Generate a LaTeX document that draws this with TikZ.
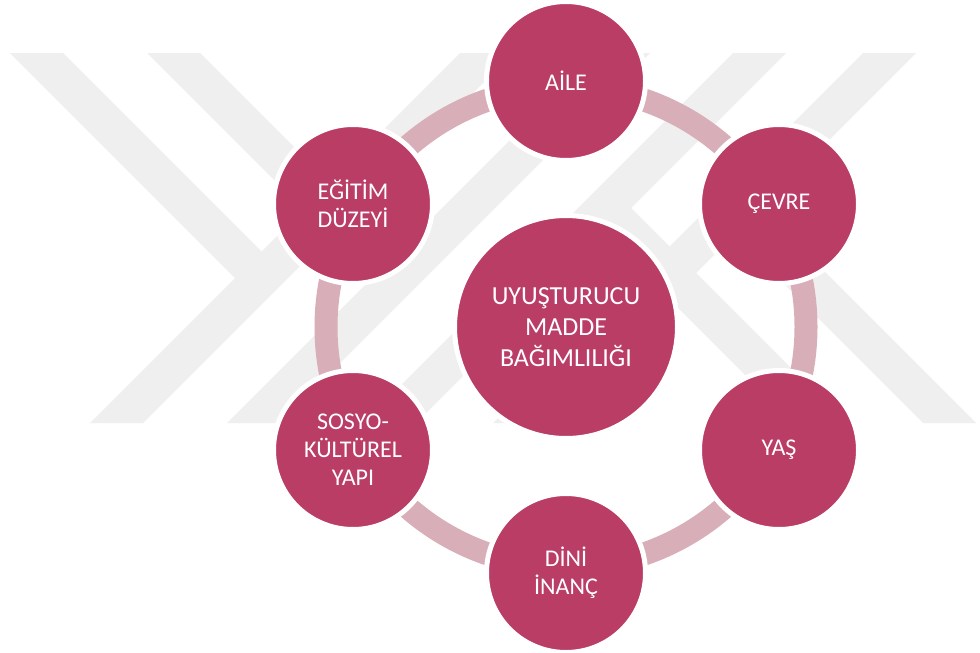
\documentclass[tikz,border=0pt]{standalone}
\usepackage{fontspec}
\setmainfont{Carlito}
\definecolor{wmgray}{RGB}{239,239,239}
\definecolor{bubfill}{RGB}{186,61,102}
\definecolor{ringc}{RGB}{216,174,184}
\begin{document}
\begin{tikzpicture}[x=1pt,y=-1pt,
  bub/.style={circle, fill=bubfill, draw=white, line width=5pt, minimum size=159pt,
    inner sep=0pt, align=center, text=white, font=\fontsize{24}{28}\selectfont},
  hub/.style={bub, minimum size=223pt, font=\fontsize{26}{31}\selectfont},
  wmband/.style={fill=wmgray, draw=none},
  ringline/.style={draw=ringc, line width=23pt}]
\useasboundingbox (0,0) rectangle (980,653);
\fill[white] (0,0) rectangle (980,653);
% watermark
\fill[wmband] (460,53) -- (513,53) -- (143,423) -- (90,423) -- cycle;
\fill[wmband] (597,53) -- (650,53) -- (280,423) -- (227,423) -- cycle;
\fill[wmband] (733,53) -- (786,53) -- (416,423) -- (363,423) -- cycle;
\fill[wmband] (863,53) -- (916,53) -- (546,423) -- (493,423) -- cycle;
\fill[wmband] (10,53) -- (63,53) -- (274.75,264.75) -- (248.25,291.25) -- cycle;
\fill[wmband] (147,53) -- (200,53) -- (411.75,264.75) -- (385.25,291.25) -- cycle;
\fill[wmband] (793,423) -- (846,423) -- (617.75,194.75) -- (591.25,221.25) -- cycle;
\fill[wmband] (923,423) -- (976,423) -- (747.75,194.75) -- (721.25,221.25) -- cycle;
% hub
\coordinate (ctr) at (566,327);
\draw[ringline] (ctr) circle[radius=240pt];
\node[hub] (hubn) at (ctr) {UYUŞTURUCU\\MADDE\\BAĞIMLILIĞI};
\node[bub] (aile) at (566,81) {AİLE};
\node[bub] (cevre) at (779,204) {ÇEVRE};
\node[bub] (yas) at (779,450) {YAŞ};
\node[bub] (dini) at (566,573) {DİNİ\\İNANÇ};
\node[bub] (sosyo) at (353,450) {SOSYO-\\KÜLTÜREL\\YAPI};
\node[bub] (egitim) at (353,204) {EĞİTİM\\DÜZEYİ};
\end{tikzpicture}
\end{document}
